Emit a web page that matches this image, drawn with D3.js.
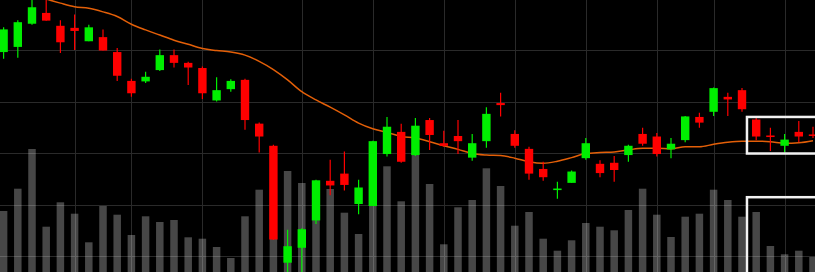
<!DOCTYPE html>
<html>
<head>
<meta charset="utf-8">
<script src="https://cdnjs.cloudflare.com/ajax/libs/d3/7.8.5/d3.min.js"></script>
<style>
    html, body { margin: 0; padding: 0; background: #000; overflow: hidden; }
    svg { display: block; }
</style>
</head>
<body>
<svg id="chart" width="815" height="272"></svg>
<script>
// daily bars, oldest first
const openP = [43.96, 44.06, 44.51, 44.72, 44.47, 44.43, 44.17, 44.25, 43.96, 43.40,
    43.39, 43.61, 43.90, 43.75, 43.65, 43.02, 43.24, 43.42, 42.57, 42.14,
    39.87, 40.16, 40.69, 41.46, 41.60, 41.01, 40.97, 41.98, 42.41, 41.96,
    42.64, 42.19, 42.33, 41.91, 42.23, 42.97, 42.37, 42.08, 41.69, 41.28,
    41.42, 41.90, 41.79, 41.81, 41.96, 42.37, 42.32, 42.07, 42.25, 42.70,
    42.80, 43.09, 43.22, 42.65, 42.34, 42.14, 42.41, 42.36];
const closeP = [44.40, 44.54, 44.83, 44.57, 44.15, 44.37, 44.44, 43.99, 43.50, 43.16,
    43.48, 43.90, 43.75, 43.66, 43.16, 43.22, 43.40, 42.64, 42.32, 40.32,
    40.19, 40.52, 41.47, 41.37, 41.38, 41.33, 42.23, 42.51, 41.83, 42.53,
    42.35, 42.14, 42.23, 42.19, 42.76, 42.93, 42.14, 41.60, 41.53, 41.31,
    41.64, 42.19, 41.61, 41.67, 42.14, 42.18, 41.98, 42.18, 42.71, 42.59,
    43.26, 43.04, 42.85, 42.32, 42.31, 42.26, 42.32, 42.34];
const highP = [44.44, 44.58, 45.03, 45.01, 44.58, 44.69, 44.49, 44.40, 44.04, 43.44,
    43.58, 44.01, 44.01, 43.77, 43.68, 43.47, 43.43, 43.44, 42.59, 42.16,
    40.51, 40.54, 41.48, 41.87, 42.03, 41.48, 42.24, 42.70, 42.57, 42.68,
    42.68, 42.43, 42.64, 42.37, 42.89, 43.17, 42.44, 42.12, 41.83, 41.44,
    41.66, 42.29, 41.86, 41.94, 42.16, 42.49, 42.39, 42.29, 42.72, 42.78,
    43.27, 43.17, 43.26, 42.69, 42.49, 42.37, 42.62, 42.51];
const lowP = [43.83, 43.85, 44.49, 44.57, 43.94, 44.00, 44.17, 43.99, 43.40, 43.09,
    43.36, 43.59, 43.66, 43.32, 43.05, 43.00, 43.19, 42.45, 42.01, 40.31,
    39.61, 39.61, 40.62, 41.18, 41.27, 40.81, 40.97, 41.93, 41.81, 41.94,
    42.06, 42.12, 41.98, 41.85, 42.10, 42.71, 42.10, 41.48, 41.46, 41.11,
    41.42, 41.87, 41.53, 41.44, 41.83, 42.14, 41.93, 41.90, 42.21, 42.49,
    42.72, 42.72, 42.80, 42.25, 42.04, 42.01, 42.21, 42.29];
const volume = [610, 833, 1230, 453, 697, 583, 297, 660, 573, 370,
    557, 500, 520, 347, 333, 250, 140, 557, 823, 823,
    1010, 890, 870, 830, 593, 380, 720, 1057, 707, 1200,
    880, 277, 647, 720, 1037, 860, 463, 600, 333, 213,
    317, 490, 453, 417, 620, 833, 573, 350, 553, 583,
    823, 720, 553, 600, 260, 177, 213, 150];
const movingAvg = [null, null, 45.07, 44.99, 44.91, 44.84, 44.81, 44.74, 44.65, 44.50,
    44.39, 44.29, 44.19, 44.11, 44.03, 43.99, 43.96, 43.90, 43.78, 43.62,
    43.42, 43.19, 43.03, 42.89, 42.74, 42.58, 42.47, 42.40, 42.32, 42.29,
    42.22, 42.14, 42.07, 41.99, 41.96, 41.95, 41.90, 41.83, 41.80, 41.84,
    41.91, 41.99, 42.01, 42.02, 42.06, 42.09, 42.09, 42.08, 42.12, 42.12,
    42.17, 42.21, 42.23, 42.23, 42.22, 42.19, 42.20, 42.24];

const priceTicks = [40, 41, 42, 43, 44];
const gridDays = [5, 9, 14, 21, 26, 31, 36, 41, 46, 50, 55];

// highlighted area on the right
const boxStart = 52.35;
const boxPrice = [41.99, 42.70];
const boxVolume = 748;

const width = 815, height = 272;
const svg = d3.select('#chart');

let days = openP.map(function(d, i) { return i; });
let bars = days.map(function(i) {
    return { i: i, o: openP[i], c: closeP[i], h: highP[i], l: lowP[i], v: volume[i], ma: movingAvg[i] };
});

let x = d3.scaleLinear().domain([0, days.length - 1]).range([3.6, 813]);
let y = d3.scaleLinear().domain([40, 44]).range([256, 50]);
let yVol = d3.scaleLinear().domain([0, 2000]).range([height, 72]);

let crisp = function(v) { return Math.round(v) + 0.5; };

svg.append('rect')
    .attr('width', width)
    .attr('height', height)
    .attr('fill', '#000');

// grid
let grid = svg.append('g').attr('stroke', '#2a2a2a').attr('stroke-width', 1);
grid.selectAll('line.h')
    .data(priceTicks)
    .enter().append('line')
    .attr('class', 'h')
    .attr('x1', 0).attr('x2', width)
    .attr('y1', function(d) { return crisp(y(d)); })
    .attr('y2', function(d) { return crisp(y(d)); });
grid.selectAll('line.v')
    .data(gridDays)
    .enter().append('line')
    .attr('class', 'v')
    .attr('y1', 0).attr('y2', height)
    .attr('x1', function(d) { return crisp(x(d)); })
    .attr('x2', function(d) { return crisp(x(d)); });

// volume
svg.append('g').selectAll('rect')
    .data(bars)
    .enter().append('rect')
    .attr('x', function(d) { return x(d.i) - 3.75; })
    .attr('width', 7.5)
    .attr('y', function(d) { return yVol(d.v); })
    .attr('height', function(d) { return yVol(0) - yVol(d.v); })
    .attr('fill', '#fff')
    .attr('fill-opacity', 0.28);

// moving average
let line = d3.line()
    .defined(function(d) { return d.ma != null; })
    .x(function(d) { return x(d.i); })
    .y(function(d) { return y(d.ma); })
    .curve(d3.curveMonotoneX);

svg.append('path')
    .attr('d', line(bars))
    .attr('fill', 'none')
    .attr('stroke', '#e35f08')
    .attr('stroke-width', 1.5);

// candles
let colorOf = function(d) { return d.c >= d.o ? '#00ee00' : '#ff0000'; };
let candles = svg.append('g').selectAll('g')
    .data(bars)
    .enter().append('g');

candles.append('line')
    .attr('x1', function(d) { return x(d.i); })
    .attr('x2', function(d) { return x(d.i); })
    .attr('y1', function(d) { return y(d.h); })
    .attr('y2', function(d) { return y(d.l); })
    .attr('stroke', colorOf)
    .attr('stroke-width', 1.2);

candles.append('rect')
    .attr('x', function(d) { return x(d.i) - 4.2; })
    .attr('width', 8.4)
    .attr('y', function(d) { return y(Math.max(d.o, d.c)); })
    .attr('height', function(d) { return Math.max(1.5, Math.abs(y(d.o) - y(d.c))); })
    .attr('fill', colorOf);

// highlight boxes
svg.append('rect')
    .attr('x', x(boxStart))
    .attr('y', y(boxPrice[1]))
    .attr('width', width + 10 - x(boxStart))
    .attr('height', y(boxPrice[0]) - y(boxPrice[1]))
    .attr('fill', 'none')
    .attr('stroke', '#f2f2f2')
    .attr('stroke-width', 2.5);

svg.append('rect')
    .attr('x', x(boxStart))
    .attr('y', yVol(boxVolume))
    .attr('width', width + 10 - x(boxStart))
    .attr('height', height + 10 - yVol(boxVolume))
    .attr('fill', 'none')
    .attr('stroke', '#f2f2f2')
    .attr('stroke-width', 2.5);
</script>
</body>
</html>
